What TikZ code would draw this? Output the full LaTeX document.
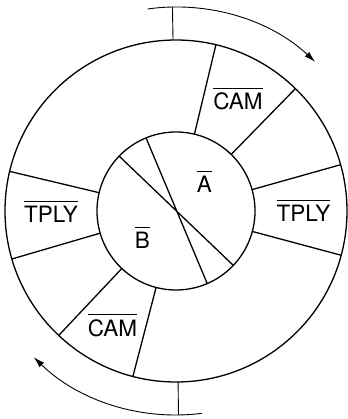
\documentclass[tikz,border=0pt]{standalone}
\usepackage{fontspec}
\setmainfont{TeX Gyre Heros}
\usetikzlibrary{arrows.meta}
% text with a bar over it
\newcommand{\barlabel}[1]{\setbox0=\hbox{#1}\vbox{\hrule height 1.3pt width \wd0\kern4.2pt\box0}}
\tikzset{
  ring/.style={line width=1.3pt},
  spoke/.style={line width=1.3pt},
  turn/.style={line width=0.9pt, -{Latex[length=11pt,width=6.5pt]}},
  sig/.style={inner sep=0pt, anchor=base, font=\fontsize{22.5}{25}\selectfont}
}
\begin{document}
\begin{tikzpicture}[x=1pt, y=1pt]
    \useasboundingbox (-176,-208) rectangle (171,211);
    % Wheel
    \draw[ring] (0,0) circle[radius=171];
    \draw[ring] (0,0) circle[radius=79];
    % Spokes of the ring
    \foreach \a in {76.5, 45.7, 15.7, -15, 166.6, 196.3, 226.7, 255.4}
      \draw[spoke] (\a:79) -- (\a:171);
    % Hub chords
    \draw[spoke] (112.3:79) -- (293.3:79);
    \draw[spoke] (136:79) -- (316.5:79);
    % Direction of turning
    \draw[ring, line width=0.9pt] (91:171) -- (91:204);
    \draw[turn] (98:204) arc[start angle=98, end angle=47, radius=204];
    \draw[ring, line width=0.9pt] (-89.3:171) -- (-89.3:204);
    \draw[turn] (-82.7:204) arc[start angle=-82.7, end angle=-134.2, radius=204];
    % Labels
    \node[sig] (camtop) at (62,101) {\barlabel{CAM}};
    \node[sig] (tplyr) at (127.5,-11) {\barlabel{TPLY}};
    \node[sig] (tplyl) at (-125,-12) {\barlabel{TPLY}};
    \node[sig] (abar) at (28.5,18) {\barlabel{A}};
    \node[sig] (bbar) at (-33.5,-38) {\barlabel{B}};
    \node[sig] (camlow) at (-63.5,-125) {\barlabel{CAM}};
\end{tikzpicture}
\end{document}
